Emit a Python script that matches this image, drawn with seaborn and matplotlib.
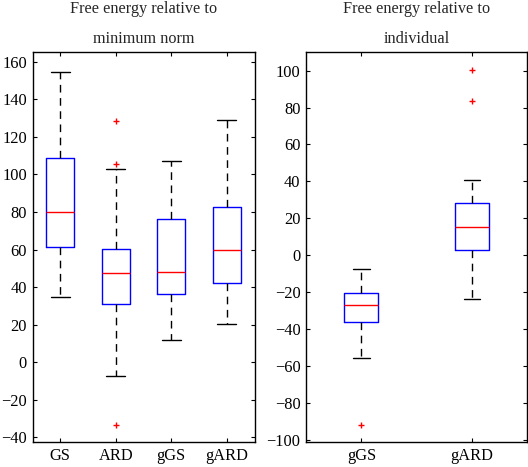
import matplotlib
matplotlib.use("Agg")
import matplotlib.pyplot as plt
import seaborn as sns

sns.set_style("ticks")
plt.rcParams['font.family'] = ['Liberation Serif', 'DejaVu Serif']

# Left panel: free energy relative to minimum norm
left_labels = ["GS", "ARD", "gGS", "gARD"]
left_whislo = [35.0, -7.3, 11.8, 20.5]
left_q1 = [61.2, 30.9, 36.1, 42.4]
left_med = [80.1, 47.4, 47.9, 60.0]
left_q3 = [108.8, 60.5, 76.5, 82.5]
left_whishi = [154.7, 102.9, 107.0, 129.0]
left_fliers = [[], [128.4, 105.7, -33.3], [], []]

# Right panel: free energy relative to individual
right_labels = ["gGS", "gARD"]
right_whislo = [-55.7, -23.9]
right_q1 = [-36.3, 2.9]
right_med = [-27.1, 15.0]
right_q3 = [-20.4, 28.2]
right_whishi = [-7.4, 41.0]
right_fliers = [[-92.1], [100.3, 83.5]]


def make_stats(labels, lo, q1, med, q3, hi, fl):
    return [dict(label=l, whislo=a, q1=b, med=c, q3=d, whishi=e, fliers=f)
            for l, a, b, c, d, e, f in zip(labels, lo, q1, med, q3, hi, fl)]


fig = plt.figure(figsize=(5.28, 4.67), dpi=100)
W, H = 528, 467
ax1 = fig.add_axes([32.5 / W, (H - 442.3) / H, (254.5 - 32.5) / W, (442.3 - 52.3) / H])
ax2 = fig.add_axes([306 / W, (H - 442.3) / H, (527.3 - 306) / W, (442.3 - 52.3) / H])

common = dict(
    boxprops=dict(color="#0000ff", linewidth=1.0),
    medianprops=dict(color="#ff0000", linewidth=1.0),
    whiskerprops=dict(color="black", linewidth=1.0, linestyle=(0, (5.5, 4))),
    capprops=dict(color="black", linewidth=1.0),
    flierprops=dict(marker="+", markeredgecolor="#ff0000", markersize=5, linestyle="none"),
    patch_artist=False,
)

ax1.bxp(make_stats(left_labels, left_whislo, left_q1, left_med, left_q3, left_whishi, left_fliers),
        positions=[1, 2, 3, 4], widths=0.5, capwidths=0.34, **common)
ax2.bxp(make_stats(right_labels, right_whislo, right_q1, right_med, right_q3, right_whishi, right_fliers),
        positions=[1, 2], widths=0.31, capwidths=0.15, **common)

ax1.set_xlim(0.5, 4.5)
ax1.set_ylim(-42.6, 165)
ax1.set_yticks(range(-40, 161, 20))
ax2.set_xlim(0.5, 2.5)
ax2.set_ylim(-101.5, 110)
ax2.set_yticks(range(-100, 101, 20))

for ax, title in [(ax1, "Free energy relative to\nminimum norm"),
                  (ax2, "Free energy relative to\nindividual")]:
    ax.set_title(title, fontsize=11.7, linespacing=2.15, pad=7)
    ax.tick_params(direction="in", length=3, width=0.8, labelsize=11.8,
                   top=True, right=True, pad=4, colors="black")
    for s in ax.spines.values():
        s.set_linewidth(1.0)
        s.set_color("black")
    ax.set_facecolor("white")

fig.savefig("out.png", dpi=100, facecolor="white")
